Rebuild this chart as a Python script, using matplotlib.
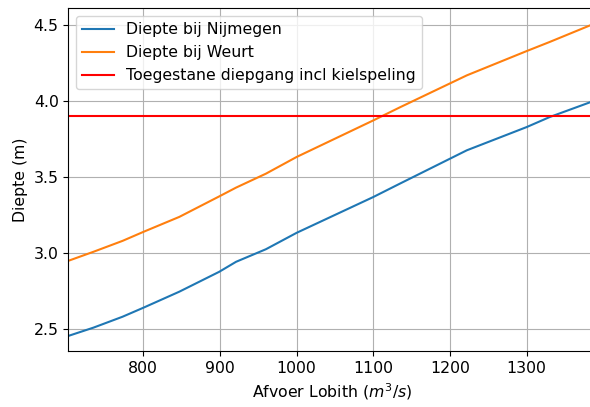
import matplotlib
matplotlib.use("Agg")
import matplotlib.pyplot as plt

afvoer = [702, 735, 773, 800, 847, 899, 921, 960, 1000, 1100, 1135, 1222, 1300, 1330, 1383]
nijmegen = [2.452, 2.507, 2.579, 2.638, 2.744, 2.875, 2.941, 3.024, 3.132, 3.368, 3.457, 3.676, 3.829, 3.895, 3.993]
weurt = [2.947, 3.007, 3.079, 3.138, 3.237, 3.372, 3.43, 3.522, 3.632, 3.873, 3.96, 4.17, 4.33, 4.39, 4.5]
toegestaan = 3.9

W, H = 590, 407
fig = plt.figure(figsize=(W/100, H/100), dpi=100)
left = 68.3
bottom = 351
top = 8.3
xmin, xmax = 702.2, 1390
ppu = 0.7667
width_px = (xmax - xmin) * ppu
ax = fig.add_axes([left/W, (H-bottom)/H, width_px/W, (bottom-top)/H])

ax.plot(afvoer, nijmegen, color='#1f77b4', lw=1.5, label='Diepte bij Nijmegen')
ax.plot(afvoer, weurt, color='#ff7f0e', lw=1.5, label='Diepte bij Weurt')
ax.axhline(toegestaan, color='red', lw=1.5, label='Toegestane diepgang incl kielspeling')

fs = 11.3
ax.set_xlim(xmin, xmax)
ax.set_ylim(2.353, 4.612)
ax.set_xticks([800, 900, 1000, 1100, 1200, 1300])
ax.set_yticks([2.5, 3.0, 3.5, 4.0, 4.5])
ax.grid(True, color='#b0b0b0', lw=0.8)
ax.set_axisbelow(True)
ax.tick_params(labelsize=fs)
ax.set_xlabel('Afvoer Lobith ($m^3/s$)', fontsize=fs)
ax.set_ylabel('Diepte (m)', fontsize=fs)
ax.legend(loc='upper left', fontsize=fs)

fig.savefig('out.png', dpi=100)
